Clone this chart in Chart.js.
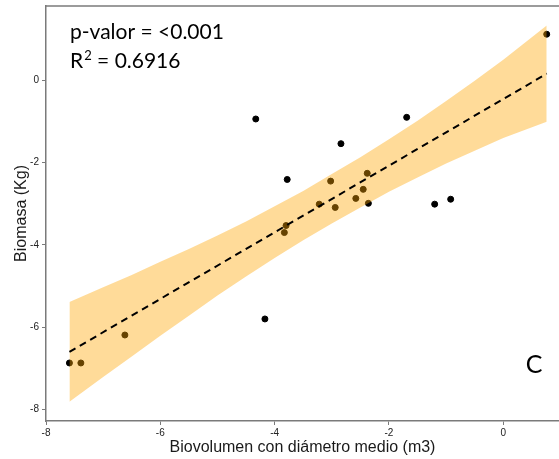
<!DOCTYPE html>
<html>
<head>
<meta charset="utf-8">
<script src="https://cdn.jsdelivr.net/npm/chart.js@4.4.1/dist/chart.umd.min.js"></script>
<style>
  html, body { margin: 0; padding: 0; background: #fff; overflow: hidden; }
</style>
</head>
<body>
<canvas id="chart" width="559" height="459"></canvas>
<script>
// observed points (Biovolumen vs Biomasa)
const ptX = [0.76, -4.33, -1.69, -2.84, -3.78, -3.02, -2.38, -2.45, -2.58, -2.36,
             -2.94, -3.22, -1.20, -0.92, -3.80, -3.83, -4.17, -6.62, -7.39, -7.59];
const ptY = [1.12, -0.94, -0.90, -1.54, -2.41, -2.45, -2.26, -2.65, -2.87, -2.99,
             -3.09, -3.01, -3.01, -2.89, -3.53, -3.70, -5.80, -6.19, -6.87, -6.87];

// fitted line
const fitX = [-7.59, 0.76];
const fitY = [-6.60, 0.16];

// confidence band
const bandX     = [-7.59, -7.0, -6.5, -6.0, -5.5, -5.0, -4.5, -4.0, -3.5,
                   -3.0, -2.5, -2.0, -1.5, -1.0, -0.5, 0.0, 0.76];
const bandUpper = [-5.39, -5.03, -4.73, -4.41, -4.10, -3.77, -3.43, -3.06, -2.69,
                   -2.28, -1.87, -1.43, -0.98, -0.50, -0.01, 0.50, 1.33];
const bandLower = [-7.81, -7.21, -6.71, -6.21, -5.72, -5.23, -4.77, -4.32, -3.89,
                   -3.48, -3.09, -2.71, -2.36, -2.02, -1.71, -1.40, -1.01];

const xTicks = [-8, -6, -4, -2, 0];
const yTicks = [-8, -6, -4, -2, 0];

const axisGrey = '#7a7a7a';
const toXY = (xs, ys) => xs.map((x, i) => ({ x: x, y: ys[i] }));

// texto de anotaciones y borde superior
const annotations = {
  id: 'annotations',
  afterDraw(chart) {
    const ctx = chart.ctx;
    const area = chart.chartArea;
    ctx.save();
    ctx.strokeStyle = axisGrey;
    ctx.lineWidth = 1.5;
    ctx.beginPath();
    ctx.moveTo(area.left, area.top);
    ctx.lineTo(area.right, area.top);
    ctx.stroke();

    ctx.fillStyle = '#000';
    ctx.textBaseline = 'alphabetic';
    ctx.font = '21px Lato';
    ctx.fillText('p-valor = <0.001', 70, 39);
    ctx.fillText('R', 70, 68);
    let w = ctx.measureText('R').width;
    ctx.font = '13px Lato';
    ctx.fillText('2', 70 + w + 1, 60);
    let w2 = ctx.measureText('2').width;
    ctx.font = '21px Lato';
    ctx.fillText(' = 0.6916', 70 + w + w2 + 1, 68);

    ctx.font = '25px Lato';
    ctx.textAlign = 'center';
    ctx.textBaseline = 'middle';
    ctx.fillText('C', 534, 365);
    ctx.restore();
  }
};

new Chart(document.getElementById('chart'), {
  type: 'scatter',
  data: {
    datasets: [
      {
        type: 'line',
        data: toXY(fitX, fitY),
        borderColor: '#000',
        borderWidth: 2,
        borderDash: [7, 5],
        pointRadius: 0,
        fill: false,
        order: 0
      },
      {
        type: 'line',
        data: toXY(bandX, bandUpper),
        borderWidth: 0,
        pointRadius: 0,
        backgroundColor: 'rgba(255, 165, 0, 0.4)',
        fill: '+1',
        order: 1
      },
      {
        type: 'line',
        data: toXY(bandX, bandLower),
        borderWidth: 0,
        pointRadius: 0,
        fill: false,
        order: 1
      },
      {
        data: toXY(ptX, ptY),
        backgroundColor: '#000',
        borderColor: '#000',
        pointRadius: 3,
        order: 2
      }
    ]
  },
  options: {
    responsive: false,
    animation: false,
    layout: { autoPadding: false, padding: { top: 6, right: 0, left: 0, bottom: 0 } },
    plugins: { legend: { display: false }, tooltip: { enabled: false } },
    scales: {
      x: {
        type: 'linear',
        min: -8,
        max: 0.975,
        afterBuildTicks: (s) => { s.ticks = xTicks.map(v => ({ value: v })); },
        afterFit: (s) => { s.height = 38; s.paddingLeft = 0; s.paddingRight = 0; },
        grid: { drawOnChartArea: false, drawTicks: true, tickLength: 4, color: axisGrey },
        border: { display: true, color: axisGrey, width: 1.5 },
        ticks: { color: '#222', font: { family: 'Liberation Sans', size: 10 }, padding: 2 },
        title: {
          display: true,
          text: 'Biovolumen con diámetro medio (m3)',
          color: '#1a1a1a',
          font: { family: 'Liberation Sans', size: 16 },
          padding: { top: 0, bottom: 1.5 }
        }
      },
      y: {
        type: 'linear',
        min: -8.28,
        max: 1.806,
        afterBuildTicks: (s) => { s.ticks = yTicks.map(v => ({ value: v })); },
        afterFit: (s) => { s.width = 46; s.paddingTop = 0; s.paddingBottom = 0; },
        grid: { drawOnChartArea: false, drawTicks: true, tickLength: 4, color: axisGrey },
        border: { display: true, color: axisGrey, width: 1.5 },
        ticks: { color: '#222', font: { family: 'Liberation Sans', size: 10 }, padding: 3 },
        title: {
          display: true,
          text: 'Biomasa (Kg)',
          color: '#1a1a1a',
          font: { family: 'Liberation Sans', size: 16 },
          padding: { top: 12, bottom: 0 }
        }
      }
    }
  },
  plugins: [annotations]
});
</script>
</body>
</html>
